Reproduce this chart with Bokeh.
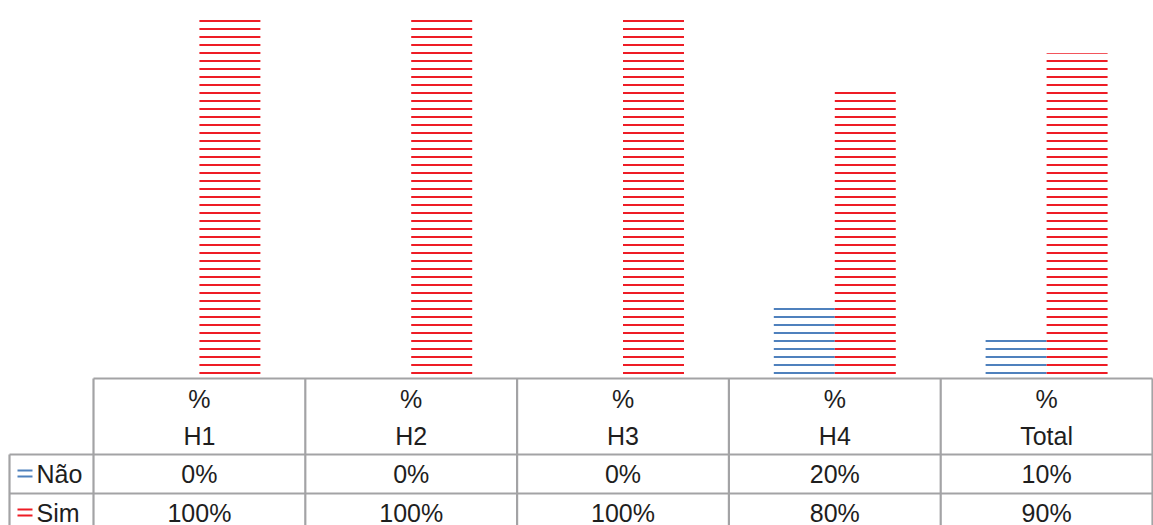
from bokeh.plotting import figure
from bokeh.models import Range1d, ColumnDataSource
from bokeh.embed import file_html
from bokeh.resources import INLINE
from bokeh.core.properties import value

categories = ["H1", "H2", "H3", "H4", "Total"]
header = ["%", "%", "%", "%", "%"]
nao = [0, 0, 0, 20, 10]
sim = [100, 100, 100, 80, 90]
series_names = ["Não", "Sim"]
nao_labels = ["0%", "0%", "0%", "20%", "10%"]
sim_labels = ["100%", "100%", "100%", "80%", "90%"]

BLUE = "#4F81BD"
RED = "#EE1C25"
GRID = "#A3A3A5"
TXT = "#1E1E1E"
FONT = "Liberation Sans"

W, H = 1153, 525
COLW = 211.8
LEFT = 93.0
ZERO_PX = 374.0
PX_PER = 3.57

def px2y(p):
    return (ZERO_PX - p) / PX_PER

def px2x(p):
    return (p - LEFT) / COLW

p = figure(width=W, height=H, output_backend="svg", toolbar_location=None,
           x_range=Range1d(px2x(0), px2x(W)), y_range=Range1d(px2y(H), px2y(0)),
           min_border=0, min_border_left=0, min_border_right=0,
           min_border_top=0, min_border_bottom=0)
p.axis.visible = False
p.grid.visible = False
p.outline_line_color = None
p.background_fill_color = "white"
p.border_fill_color = "white"

n = len(categories)
centers = [i + 0.5 for i in range(n)]
bw = 0.288
src = ColumnDataSource(dict(
    c=centers, nao=nao, sim=sim,
    nl=[c - bw for c in centers], nr=centers,
    sl=centers, sr=[c + bw for c in centers],
    cat=categories, hdr=header, nlab=nao_labels, slab=sim_labels,
))

p.quad(left="nl", right="nr", bottom=0, top="nao", source=src,
       fill_color=None, line_color=None,
       hatch_pattern="horizontal_line", hatch_color=BLUE, hatch_weight=2, hatch_scale=8)
p.quad(left="sl", right="sr", bottom=0, top="sim", source=src,
       fill_color=None, line_color=None,
       hatch_pattern="horizontal_line", hatch_color=RED, hatch_weight=2, hatch_scale=8)

# table grid
top_y = px2y(378)
r1_y = px2y(454)
r2_y = px2y(493)
bot_y = px2y(H + 2)
x_tab_left = px2x(9)
x_right = px2x(1152)
hx0 = [px2x(LEFT), x_tab_left, x_tab_left]
hx1 = [x_right, x_right, x_right]
hy = [top_y, r1_y, r2_y]
p.segment(x0=hx0, y0=hy, x1=hx1, y1=hy, line_color=GRID, line_width=2.2)
vx = [px2x(9)] + [float(i) for i in range(n)] + [x_right]
vy0 = [r1_y] + [top_y] * n + [top_y]
p.segment(x0=vx, y0=vy0, x1=vx, y1=[bot_y] * len(vx), line_color=GRID, line_width=2.2)

fs = "25px"
p.text(x="c", y=px2y(398), text="hdr", source=src, text_align="center", text_baseline="middle",
       text_font=value(FONT), text_font_size=fs, text_color=TXT)
p.text(x="c", y=px2y(435), text="cat", source=src, text_align="center", text_baseline="middle",
       text_font=value(FONT), text_font_size=fs, text_color=TXT)
p.text(x="c", y=px2y(473), text="nlab", source=src, text_align="center", text_baseline="middle",
       text_font=value(FONT), text_font_size=fs, text_color=TXT)
p.text(x="c", y=px2y(512), text="slab", source=src, text_align="center", text_baseline="middle",
       text_font=value(FONT), text_font_size=fs, text_color=TXT)

# row labels with legend keys
p.text(x=[px2x(36), px2x(36)], y=[px2y(473), px2y(512)], text=series_names,
       text_align="left", text_baseline="middle",
       text_font=value(FONT), text_font_size=fs, text_color=TXT)
kx0 = px2x(17)
kx1 = px2x(32)
p.segment(x0=[kx0, kx0], x1=[kx1, kx1], y0=[px2y(470), px2y(476)], y1=[px2y(470), px2y(476)],
          line_color=BLUE, line_width=2)
p.segment(x0=[kx0, kx0], x1=[kx1, kx1], y0=[px2y(509), px2y(515)], y1=[px2y(509), px2y(515)],
          line_color=RED, line_width=2)

open("out.html", "w").write(file_html(p, INLINE))
